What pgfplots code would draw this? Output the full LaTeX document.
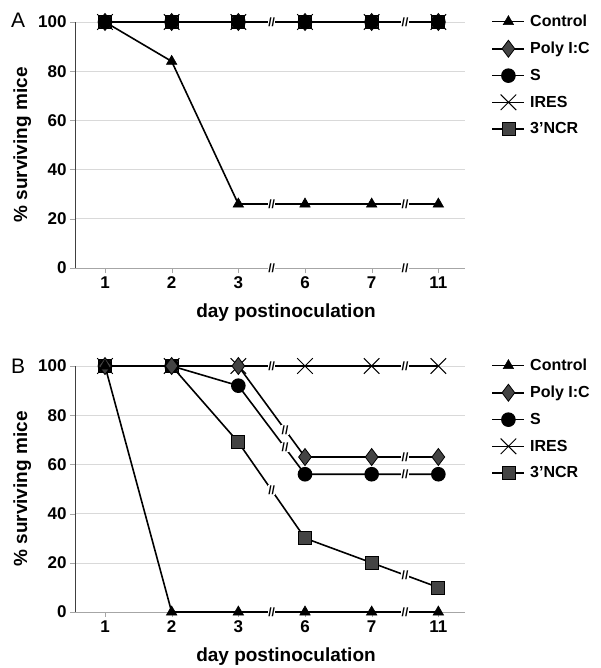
\documentclass[border=0pt]{standalone}
\usepackage{pgfplots}
\pgfplotsset{compat=1.18}
\usepackage{fontspec}
\setmainfont{Liberation Sans}
\definecolor{mgray}{HTML}{444444}
\pgfplotsset{
 panel/.style={
  scale only axis, width=390pt, height=246pt,
  xmin=0.55, xmax=6.4, ymin=0, ymax=100,
  clip=false,
  axis x line*=bottom, axis y line*=left,
  x axis line style={gray!70,-}, y axis line style={black!75,-},
  xtick={1,...,6}, xticklabels={1,2,3,6,7,11},
  ytick={0,20,...,100},
  ymajorgrids, grid style={gray!30, line width=0.6pt},
  tick align=outside, major tick length=5pt, tick style={gray!70},
  /pgf/number format/assume math mode=true,
  tick label style={font=\bfseries\fontsize{17}{17}\selectfont},
  xlabel={day postinoculation}, ylabel={\% surviving mice},
  label style={font=\bfseries\fontsize{19}{19}\selectfont},
  xlabel style={xshift=16pt, yshift=-8pt},
  legend style={at={(1.06,1.045)}, anchor=north west, draw=none, fill=none,
    font=\bfseries\fontsize{16}{16}\selectfont, row sep=10pt,
    nodes={inner xsep=5pt}},
  legend cell align=left,
  legend image code/.code={\draw[mark repeat=2,mark phase=2,##1] plot coordinates {(0pt,0pt)(16pt,0pt)(32pt,0pt)};},
 },
 ctrl/.style={black, line width=1.6pt, mark=triangle*, mark size=6pt, mark options={solid, fill=black, line width=0.6pt}},
 poly/.style={black, line width=1.6pt, mark=diamond*, mark size=8.5pt, mark options={solid, fill=mgray, draw=black, line width=0.8pt}},
 sser/.style={black, line width=1.6pt, mark=*, mark size=6.5pt, mark options={solid, fill=black}},
 ires/.style={black, line width=1.6pt, mark=x, mark size=11pt, mark options={solid, line width=1pt}},
 ncr/.style={black, line width=1.6pt, mark=square*, mark size=6.5pt, mark options={solid, fill=mgray, draw=black, line width=0.8pt}},
 brk/.style={only marks, mark=text, text mark={//}, text mark as node=true,
   text mark style={font=\bfseries\fontsize{12}{12}\selectfont, fill=white, inner sep=0.3pt}, forget plot},
}
\begin{document}
\begin{tikzpicture}
\begin{axis}[panel]
\addlegendimage{ctrl}\addlegendentry{Control}
\addlegendimage{poly}\addlegendentry{Poly I:C}
\addlegendimage{sser}\addlegendentry{S}
\addlegendimage{ires}\addlegendentry{IRES}
\addlegendimage{ncr}\addlegendentry{3'NCR}
\addplot[ncr, forget plot] coordinates {(1,100)(2,100)(3,100)(4,100)(5,100)(6,100)};
\addplot[ires, forget plot] coordinates {(1,100)(2,100)(3,100)(4,100)(5,100)(6,100)};
\addplot[poly, forget plot] coordinates {(1,100)(2,100)(3,100)(4,100)(5,100)(6,100)};
\addplot[sser, forget plot] coordinates {(1,100)(2,100)(3,100)(4,100)(5,100)(6,100)};
\addplot[ctrl, forget plot] coordinates {(1,100)(2,84)(3,26)(4,26)(5,26)(6,26)};
\addplot[brk] coordinates {(3.5,100)(5.5,100)(3.5,26)(5.5,26)(3.5,0)(5.5,0)};
\node[font=\fontsize{21}{21}\selectfont] at (rel axis cs:-0.146,1.005) {A};
\end{axis}
\begin{axis}[panel, at={(0pt,-344pt)}]
\addlegendimage{ctrl}\addlegendentry{Control}
\addlegendimage{poly}\addlegendentry{Poly I:C}
\addlegendimage{sser}\addlegendentry{S}
\addlegendimage{ires}\addlegendentry{IRES}
\addlegendimage{ncr}\addlegendentry{3'NCR}
\addplot[ncr, forget plot] coordinates {(1,100)(2,100)(3,69)(4,30)(5,20)(6,10)};
\addplot[ires, forget plot] coordinates {(1,100)(2,100)(3,100)(4,100)(5,100)(6,100)};
\addplot[sser, forget plot] coordinates {(1,100)(2,100)(3,92)(4,56)(5,56)(6,56)};
\addplot[poly, forget plot] coordinates {(1,100)(2,100)(3,100)(4,63)(5,63)(6,63)};
\addplot[ctrl, forget plot] coordinates {(1,100)(2,0)(3,0)(4,0)(5,0)(6,0)};
\addplot[brk] coordinates {(3.5,100)(5.5,100)(3.7,74)(3.7,66.8)(3.5,49.5)(5.5,63)(5.5,56)(5.5,15)(3.5,0)(5.5,0)};
\node[font=\fontsize{21}{21}\selectfont] at (rel axis cs:-0.146,1.0) {B};
\end{axis}
\pgfresetboundingbox
\path (-75pt,268pt) rectangle (526pt,-400pt);
\end{tikzpicture}
\end{document}
